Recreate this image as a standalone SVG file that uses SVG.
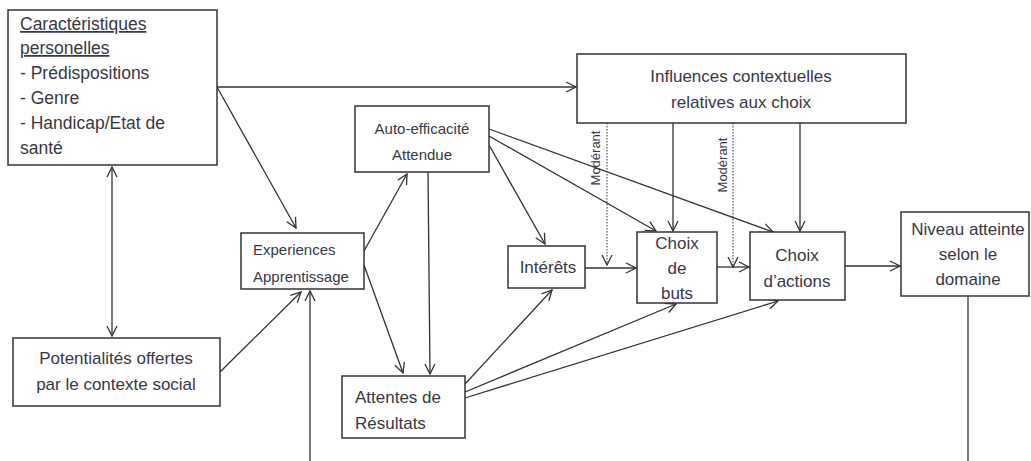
<svg xmlns="http://www.w3.org/2000/svg" width="1031" height="461" viewBox="0 0 1031 461">
<style>
.box{fill:#fff;stroke:#333;stroke-width:1.5}
.t{font-family:"Liberation Sans",Arial,sans-serif;fill:#383844;font-size:17px}
.c{text-anchor:middle}
.s{font-size:15px}
.b1{font-size:17.5px}
.m{font-size:13px}
.ln{stroke:#333;stroke-width:1.3;fill:none}
.dot{stroke:#555;stroke-width:1.2;fill:none;stroke-dasharray:1.5 1.5}
.u{text-decoration:underline}
</style>
<defs>
<marker id="a" viewBox="0 0 12 12" refX="11" refY="6" markerWidth="12" markerHeight="12" markerUnits="userSpaceOnUse" orient="auto-start-reverse">
<path d="M1,1 L11,6 L1,11" fill="none" stroke="#333" stroke-width="1.3"/>
</marker>
</defs>
<rect width="1031" height="461" fill="#fff"/>
<g id="connectors">
<line class="ln" x1="217" y1="87" x2="576" y2="87" marker-end="url(#a)"/>
<line class="ln" x1="217" y1="87" x2="296" y2="228" marker-end="url(#a)"/>
<line class="ln" x1="112" y1="167" x2="112" y2="336" marker-start="url(#a)" marker-end="url(#a)"/>
<line class="ln" x1="220" y1="372" x2="301" y2="292" marker-end="url(#a)"/>
<line class="ln" x1="310" y1="461" x2="310" y2="291" marker-end="url(#a)"/>
<line class="ln" x1="364" y1="251" x2="407" y2="174" marker-end="url(#a)"/>
<line class="ln" x1="364" y1="265" x2="403" y2="373" marker-end="url(#a)"/>
<line class="ln" x1="428" y1="172" x2="430" y2="374" marker-end="url(#a)"/>
<line class="ln" x1="489" y1="145" x2="545" y2="244" marker-end="url(#a)"/>
<line class="ln" x1="489" y1="136" x2="656" y2="231" marker-end="url(#a)"/>
<line class="ln" x1="489" y1="129" x2="773" y2="232" marker-end="url(#a)"/>
<line class="ln" x1="673" y1="123" x2="673" y2="231" marker-end="url(#a)"/>
<line class="ln" x1="800" y1="123" x2="800" y2="231" marker-end="url(#a)"/>
<line class="dot" x1="607" y1="123" x2="607" y2="265" marker-end="url(#a)"/>
<line class="dot" x1="733" y1="123" x2="733" y2="267" marker-end="url(#a)"/>
<line class="ln" x1="585" y1="268" x2="636" y2="268" marker-end="url(#a)"/>
<line class="ln" x1="717" y1="267" x2="749" y2="267" marker-end="url(#a)"/>
<line class="ln" x1="845" y1="266" x2="900" y2="266" marker-end="url(#a)"/>
<line class="ln" x1="968" y1="296" x2="968" y2="461"/>
<line class="ln" x1="465" y1="384" x2="552" y2="290" marker-end="url(#a)"/>
<line class="ln" x1="465" y1="392" x2="676" y2="304" marker-end="url(#a)"/>
<line class="ln" x1="465" y1="398" x2="778" y2="301" marker-end="url(#a)"/>
<text class="t m" transform="translate(600,158) rotate(-90)" text-anchor="middle">Modérant</text>
<text class="t m" transform="translate(727,165) rotate(-90)" text-anchor="middle">Modérant</text>
</g>
<g id="caracteristiques">
<rect class="box" x="8" y="10" width="209" height="155"/>
<text class="t b1 u" x="20" y="30">Caractéristiques</text>
<text class="t b1 u" x="20" y="54">personelles</text>
<text class="t b1" x="20" y="79">- Prédispositions</text>
<text class="t b1" x="20" y="104">- Genre</text>
<text class="t b1" x="20" y="129">- Handicap/Etat  de</text>
<text class="t b1" x="20" y="154">santé</text>
</g>
<g id="influences">
<rect class="box" x="577" y="54" width="329" height="69"/>
<text class="t c" x="741" y="82">Influences contextuelles</text>
<text class="t c" x="741" y="108">relatives aux choix</text>
</g>
<g id="auto-efficacite">
<rect class="box" x="355" y="106" width="134" height="66"/>
<text class="t c s" x="422" y="134">Auto-efficacité</text>
<text class="t c s" x="422" y="160">Attendue</text>
</g>
<g id="experiences">
<rect class="box" x="241" y="233" width="123" height="56"/>
<text class="t s" x="253" y="255">Experiences</text>
<text class="t s" x="253" y="282">Apprentissage</text>
</g>
<g id="interets">
<rect class="box" x="508" y="246" width="77" height="42"/>
<text class="t c" x="548" y="273">Intérêts</text>
</g>
<g id="choix-buts">
<rect class="box" x="637" y="232" width="80" height="71"/>
<text class="t c" x="677" y="249">Choix</text>
<text class="t c" x="677" y="274">de</text>
<text class="t c" x="677" y="299">buts</text>
</g>
<g id="choix-actions">
<rect class="box" x="750" y="232" width="95" height="68"/>
<text class="t c" x="797" y="261">Choix</text>
<text class="t c" x="797" y="287">d’actions</text>
</g>
<g id="niveau">
<rect class="box" x="901" y="212" width="128" height="84"/>
<text class="t c" x="968" y="235">Niveau atteinte</text>
<text class="t c" x="968" y="260">selon le</text>
<text class="t c" x="968" y="285">domaine</text>
</g>
<g id="potentialites">
<rect class="box" x="13" y="338" width="207" height="68"/>
<text class="t c" x="116" y="364">Potentialités offertes</text>
<text class="t c" x="116" y="390">par le contexte social</text>
</g>
<g id="attentes">
<rect class="box" x="342" y="376" width="123" height="62"/>
<text class="t" x="355" y="403">Attentes de</text>
<text class="t" x="355" y="429">Résultats</text>
</g>
</svg>
